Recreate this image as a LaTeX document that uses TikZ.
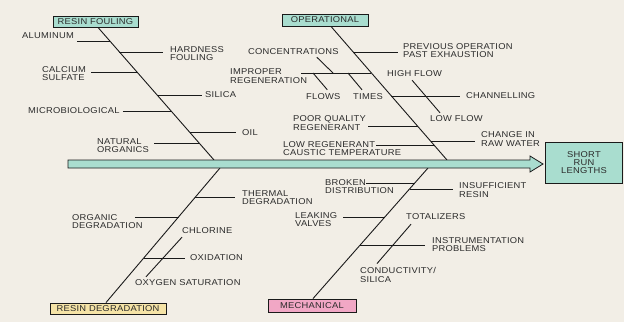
\documentclass[tikz,border=0pt]{standalone}
\usepackage{fontspec}
\setmainfont{Liberation Sans}[FakeStretch=1.1,LetterSpace=3]
\usetikzlibrary{calc}

\definecolor{paper}{HTML}{F2EEE6}
\definecolor{ink}{HTML}{1A1A1A}
\definecolor{txt}{HTML}{2B2B2B}
\definecolor{teal}{HTML}{A9DDCF}
\definecolor{sand}{HTML}{F5E3A6}
\definecolor{rose}{HTML}{F1A7C5}

\tikzset{
  catbox/.style={draw=ink, line width=0.9pt, inner sep=0pt, text=txt,
    font=\fontsize{8.5}{8.2}\selectfont},
  lbl/.style={anchor=west, align=left, inner sep=0pt, text=txt,
    font=\fontsize{8.5}{8.2}\selectfont},
  bone/.style={draw=ink, line width=0.9pt},
  rib/.style={draw=ink, line width=0.9pt},
}

\begin{document}
\begin{tikzpicture}[x=1pt,y=-1pt]
  \useasboundingbox (0,0) rectangle (624,322);
  \fill[paper] (0,0) rectangle (624,322);

  % CATEGORY BOXES
  \node[catbox, fill=teal, minimum width=85pt, minimum height=11pt] (rf) at (95.5,21.5) {RESIN FOULING};
  \node[catbox, fill=teal, minimum width=86pt, minimum height=12pt] (op) at (325,20) {OPERATIONAL};
  \node[catbox, fill=sand, minimum width=116pt, minimum height=11pt] (rd) at (108,308.5) {RESIN DEGRADATION};
  \node[catbox, fill=rose, minimum width=88pt, minimum height=13pt] (me) at (312,305.5) {MECHANICAL};
  \node[catbox, fill=teal, minimum width=77pt, minimum height=41pt, align=center] (head) at (584,162.5) {SHORT\\RUN\\LENGTHS};

  % BONES
  \coordinate (rfa) at ([xshift=2.5pt]rf.south);
  \coordinate (rfb) at (214,160);
  \coordinate (opa) at ([xshift=6pt]op.south);
  \coordinate (opb) at (447,160);
  \coordinate (rda) at ([xshift=-2pt]rd.north);
  \coordinate (rdb) at (220,168);
  \coordinate (mea) at ([xshift=1pt]me.north);
  \coordinate (meb) at (428,168);

  \draw[bone] (rfa) -- (rfb);
  \draw[bone] (opa) -- (opb);
  \draw[bone] (rda) -- (rdb);
  \draw[bone] (mea) -- (meb);

  % SPINE
  \filldraw[fill=teal, draw=ink, line width=0.8pt]
    (68,160) -- (530,160) -- (530,156) -- (543,164) -- (530,172) -- (530,168) -- (68,168) -- cycle;

  % RESIN FOULING
  \node[lbl] (alu) at (22,36) {ALUMINUM};
  \coordinate (alu-r) at (intersection of rfa--rfb and 0,41--1,41);
  \draw[rib] ($(alu-r -| alu.east)+(3,0)$) -- (alu-r);

  \node[lbl] (hard) at (170,53.5) {HARDNESS\\FOULING};
  \coordinate (hard-r) at (intersection of rfa--rfb and 0,52--1,52);
  \draw[rib] (hard-r) -- ($(hard-r -| hard.west)+(-7,0)$);

  \node[lbl] (calc) at (42,73.5) {CALCIUM\\SULFATE};
  \coordinate (calc-r) at (intersection of rfa--rfb and 0,72--1,72);
  \draw[rib] ($(calc-r -| calc.east)+(5,0)$) -- (calc-r);

  \node[lbl] (sil) at (205,95) {SILICA};
  \coordinate (sil-r) at (intersection of rfa--rfb and 0,95--1,95);
  \draw[rib] (sil-r) -- ($(sil-r -| sil.west)+(-3,0)$);

  \node[lbl] (micro) at (28,111) {MICROBIOLOGICAL};
  \coordinate (micro-r) at (intersection of rfa--rfb and 0,111--1,111);
  \draw[rib] ($(micro-r -| micro.east)+(3,0)$) -- (micro-r);

  \node[lbl] (oil) at (242,133) {OIL};
  \coordinate (oil-r) at (intersection of rfa--rfb and 0,132--1,132);
  \draw[rib] (oil-r) -- ($(oil-r -| oil.west)+(-6,0)$);

  \node[lbl] (nat) at (97,146) {NATURAL\\ORGANICS};
  \coordinate (nat-r) at (intersection of rfa--rfb and 0,143--1,143);
  \draw[rib] ($(nat-r -| nat.east)+(5,0)$) -- (nat-r);

  % OPERATIONAL
  \node[lbl] (prev) at (403,50.5) {PREVIOUS OPERATION\\PAST EXHAUSTION};
  \coordinate (prev-r) at (intersection of opa--opb and 0,52--1,52);
  \draw[rib] (prev-r) -- ($(prev-r -| prev.west)+(-5,0)$);

  \node[lbl] (conc) at (248,52) {CONCENTRATIONS};
  \node[lbl] (impr) at (230,76) {IMPROPER\\REGENERATION};
  \coordinate (impr-r) at (intersection of opa--opb and 0,73--1,73);
  \draw[rib] ($(impr-r -| impr.east)+(-6,0)$) -- (impr-r);
  \node[lbl] (flows) at (306,97) {FLOWS};
  \node[lbl] (times) at (353,97) {TIMES};
  \coordinate (conc-j) at (333,73);
  \coordinate (flows-j) at (313,73);
  \coordinate (times-j) at (348,73);
  \draw[rib] ($(conc.south east)+(-22,2)$) -- (conc-j);
  \draw[rib] (flows-j) -- ($(flows.north)+(4,-4)$);
  \draw[rib] (times-j) -- ($(times.north)+(-6,-4)$);

  \node[lbl] (hiflow) at (387,74) {HIGH FLOW};
  \node[lbl] (chan) at (466,96) {CHANNELLING};
  \coordinate (chan-r) at (intersection of opa--opb and 0,96--1,96);
  \draw[rib] (chan-r) -- ($(chan-r -| chan.west)+(-6,0)$);
  \node[lbl] (loflow) at (430,119) {LOW FLOW};
  \draw[rib] ($(hiflow.south)+(-2.5,3)$) -- ($(loflow.north west)+(10,-3)$);

  \node[lbl] (poor) at (293,123) {POOR QUALITY\\REGENERANT};
  \coordinate (poor-r) at (intersection of opa--opb and 0,126--1,126);
  \draw[rib] ($(poor-r -| poor.east)+(2,0)$) -- (poor-r);

  \node[lbl] (lowreg) at (283,148.5) {LOW REGENERANT\\CAUSTIC TEMPERATURE};
  \coordinate (lowreg-r) at (intersection of opa--opb and 0,145--1,145);
  \draw[rib] ($(lowreg-r -| lowreg.east)+(-25,0)$) -- (lowreg-r);

  \node[lbl] (chg) at (481,139) {CHANGE IN\\RAW WATER};
  \coordinate (chg-r) at (intersection of opa--opb and 0,141--1,141);
  \draw[rib] (chg-r) -- ($(chg-r -| chg.west)+(-6,0)$);

  % RESIN DEGRADATION
  \node[lbl] (therm) at (242,198) {THERMAL\\DEGRADATION};
  \coordinate (therm-r) at (intersection of rda--rdb and 0,197--1,197);
  \draw[rib] (therm-r) -- ($(therm-r -| therm.west)+(-7,0)$);

  \node[lbl] (org) at (72,221.5) {ORGANIC\\DEGRADATION};
  \coordinate (org-r) at (intersection of rda--rdb and 0,217--1,217);
  \draw[rib] ($(org-r -| org.east)+(-8,0)$) -- (org-r);

  \node[lbl] (chl) at (182,231) {CHLORINE};
  \node[lbl] (oxi) at (190,258) {OXIDATION};
  \coordinate (oxi-r) at (intersection of rda--rdb and 0,258--1,258);
  \draw[rib] (oxi-r) -- ($(oxi-r -| oxi.west)+(-5,0)$);
  \node[lbl] (oxy) at (135,283) {OXYGEN SATURATION};
  \draw[rib] ($(chl.south west)+(0,3)$) -- ($(oxy.north west)+(11,-3)$);

  % MECHANICAL
  \node[lbl] (brk) at (325,186.5) {BROKEN\\DISTRIBUTION};
  \coordinate (brk-r) at (intersection of mea--meb and 0,183--1,183);
  \draw[rib] ($(brk-r -| brk.east)+(-28,0)$) -- (brk-r);

  \node[lbl] (insuf) at (459,190) {INSUFFICIENT\\RESIN};
  \coordinate (insuf-r) at (intersection of mea--meb and 0,189--1,189);
  \draw[rib] (insuf-r) -- ($(insuf-r -| insuf.west)+(-6,0)$);

  \node[lbl] (leak) at (295,219.5) {LEAKING\\VALVES};
  \coordinate (leak-r) at (intersection of mea--meb and 0,217--1,217);
  \draw[rib] ($(leak-r -| leak.east)+(6,0)$) -- (leak-r);

  \node[lbl] (tot) at (406,217) {TOTALIZERS};
  \node[lbl] (instr) at (432,244.5) {INSTRUMENTATION\\PROBLEMS};
  \coordinate (instr-r) at (intersection of mea--meb and 0,245--1,245);
  \draw[rib] (instr-r) -- ($(instr-r -| instr.west)+(-7,0)$);
  \node[lbl] (cond) at (360,275) {CONDUCTIVITY/\\SILICA};
  \draw[rib] ($(tot.south west)+(5,4)$) -- ($(cond.north west)+(17,-4)$);

\end{tikzpicture}
\end{document}
